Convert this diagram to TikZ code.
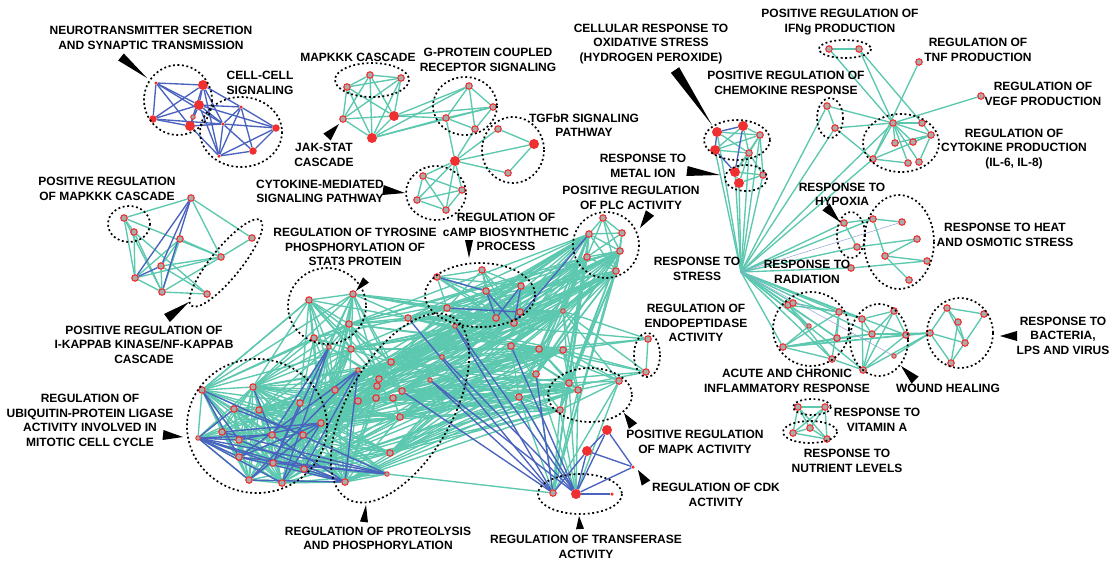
\documentclass[tikz,border=0pt]{standalone}
\usepackage{fontspec}
\setmainfont{Liberation Sans}
\usetikzlibrary{calc}
\definecolor{edgeteal}{HTML}{5BC8AF}
\definecolor{edgeblue}{HTML}{4A63BF}
\definecolor{noderim}{HTML}{EE3030}
\definecolor{nodefill}{HTML}{ABABAB}
\pgfdeclarelayer{tealedges}
\pgfdeclarelayer{blueedges}
\pgfsetlayers{tealedges,blueedges,main}
% black wedge pointing from a label to its group: tip, base centre, half width
\newcommand\calloutwedge[3]{%
  \fill[black] ($(#2)!#3!90:(#1)$) -- (#1) -- ($(#2)!#3!-90:(#1)$) -- cycle;}
% every pair of the listed nodes, joined in the given style
\newcommand\cliqueedges[2]{%
  \foreach \a [count=\i] in {#1}{\foreach \b [count=\j] in {#1}{\ifnum\i<\j \draw[#2] (\a)--(\b);\fi}}}
\tikzset{
  te/.style={draw=edgeteal, line width=1.35pt},
  be/.style={draw=edgeblue, line width=1.35pt},
  bthin/.style={draw=edgeblue!60, line width=0.5pt},
  grp/.style={draw=black, line width=1.7pt, dash pattern=on 1.9pt off 2.6pt},
  gn/.style={circle, draw=noderim, fill=nodefill, line width=1.1pt, minimum size=6.5pt, inner sep=0pt},
  gns/.style={gn, minimum size=4.5pt, line width=0.9pt},
  rn/.style={circle, fill=noderim, minimum size=10pt, inner sep=0pt},
  rnm/.style={rn, minimum size=7.5pt},
  sr/.style={rn, minimum size=3.5pt},
  lbl/.style={font=\bfseries\fontsize{12}{14.5}\selectfont, align=center, inner sep=0pt},
}
\begin{document}
\begin{tikzpicture}[x=1pt,y=-1pt]
\useasboundingbox (0,0) rectangle (1111,563);

% ---------- nodes ----------
\foreach \n/\x/\y in {N1/156/83,C1/241/107,C2/223/124,C5/219/156,D1/633/467,X3/612/494}
  \node[sr] (\n) at (\x,\y) {};
\foreach \n/\x/\y in {N2/203/85,N3/199/105,N5/190/126,J2/394/116,J3/372/138,H/455/161,T2/534/144,
  R1/607/430,R2/587/451,X2/576/494,O1/717/132,O2/743/126,O4/715/150,MI1/735/172,MI3/739/183}
  \node[rn] (\n) at (\x,\y) {};
\foreach \n/\x/\y in {N6/153/119,C3/276/128,C4/253/151}
  \node[rnm] (\n) at (\x,\y) {};
\foreach \n/\x/\y in {N4/193/117,u7/198/438,q1/329/347,q3/358/370,q6/455/326,q7/442/357,q9/430/380,
  q18/387/474,q22/563/311,AC4/809/326,WH5/894/356}
  \node[gns] (\n) at (\x,\y) {};
\foreach \n/\x/\y in {M1/370/75,M2/347/87,M3/401/78,J1/343/119,
  G1/469/86,G2/493/107,G3/446/118,G4/475/129,T1/498/129,T3/508/173,
  K1/423/176,K2/462/190,K3/417/200,K4/446/210,
  P1/191/198,P2/124/218,P3/134/232,P4/180/239,P5/252/238,P6/221/257,P7/161/266,P8/135/278,P9/162/292,P10/207/294,
  Y1/309/300,Y2/353/294,Y3/349/324,Y4/314/338,
  A1/437/277,A2/482/270,A3/486/291,A4/521/286,A5/447/308,A6/496/318,A7/520/312,A8/514/323,
  L1/603/218,L2/589/234,L3/622/233,L4/620/251,L5/587/257,L6/616/271,
  u1/202/390,u2/253/387,u3/234/409,u4/259/410,u5/300/403,u6/222/432,u8/239/440,u9/272/435,
  u10/303/435,u11/321/423,u12/239/457,u13/273/463,u14/304/469,u15/249/480,u16/282/483,u17/345/482,
  q2/351/349,q4/335/390,q5/408/318,q8/391/362,q10/379/379,q11/377/386,q12/402/391,q13/358/401,
  q14/376/398,q15/393/398,q16/400/417,q17/390/453,q19/511/346,q20/539/349,q21/563/350,q23/536/374,q24/519/397,
  E1/648/339,E2/646/372,MK1/569/383,MK2/578/390,MK3/619/381,MK4/560/410,X1/553/493,
  O3/760/135,O5/749/153,MI2/763/175,CH1/827/106,CH2/835/128,IF1/829/49,IF2/859/49,TNF/919/62,VEGF/981/96,
  CY1/893/123,CY2/922/123,CY3/931/135,CY4/895/143,CY5/913/142,CY6/873/159,CY7/908/163,CY8/919/162,
  HY1/844/223,HY2/857/247,HT1/873/219,HT2/902/222,HT3/917/239,HT4/885/256,HT5/927/261,HT6/909/280,RA/851/268,
  AC1/788/305,AC2/793/303,AC3/839/312,AC5/837/338,AC6/783/347,AC7/832/359,
  WH1/862/319,WH2/894/311,WH3/872/334,WH4/906/335,WH6/863/370,
  BA1/947/308,BA2/984/314,BA3/958/322,BA4/930/333,BA5/965/343,BA6/951/363,
  V1/798/407,V2/825/407,V3/810/428,V4/793/433,V5/827/439}
  \node[gn] (\n) at (\x,\y) {};
\coordinate (S) at (741,272);

% ---------- teal edges ----------
\begin{pgfonlayer}{tealedges}
\fill[white] (0,0) rectangle (1111,563);
\foreach \a/\b in {N3/N4,N4/N5}
  \draw[te] (\a)--(\b);
\cliqueedges{M1,M2,M3,J1,J2,J3}{te}
\foreach \a/\b in {J2/G1,J2/G2,J2/G3,J3/G1,J3/G2,J3/G3,G1/G2,G1/G3,G1/G4,G2/G3,G2/G4,G3/G4,
  G4/H,G3/H,H/T1,H/T2,H/T3,T1/T2,T2/T3}
  \draw[te] (\a)--(\b);
\cliqueedges{H,K1,K2,K3,K4}{te}
\foreach \a/\b in {P1/P2,P1/P6,P1/P5,P2/P3,P2/P6,P2/P8,P2/P9,P3/P9,P3/P10,P3/P8,P4/P6,P4/P8,P4/P9,P4/P7,
  P5/P6,P6/P7,P6/P8,P6/P9,P7/P9,P7/P10,P8/P9,P9/P10}
  \draw[te] (\a)--(\b);
\foreach \a/\b in {Y1/Y2,Y1/Y3,Y2/Y3,Y1/Y4,Y3/Y4}
  \draw[te] (\a)--(\b);
\cliqueedges{A1,A2,A3,A4,A5,A6,A7,A8}{te}
\cliqueedges{L1,L2,L3,L4,L5,L6}{te}
% dense cluster on the lower left
\cliqueedges{u1,u2,u3,u4,u5,u6,u7,u8,u9,u10,u11,u12,u13,u14,u15,u16,u17}{te}
\foreach \a in {u2,u4,u5,u9,u10,u11,u13,u14,u16,u17}
  \foreach \b in {q1,q2,q3,q4,q8,q10,q13,q14,q16,q17,q18}
    \draw[te] (\a)--(\b);
\foreach \a in {Y1,Y2,Y3,Y4}
  \foreach \b in {q1,q2,q4,q5,q8,q10,q12,u1,u2,u5,u11}
    \draw[te] (\a)--(\b);
\foreach \a in {L2,L4,L5,L6}
  \foreach \b in {q4,q5,q8,q10,q12,q13,q16,q17,u5,u11,Y3,q22,q19,q20,q23,q24,MK1,MK4,X1,u9}
    \draw[te] (\a)--(\b);
\foreach \a in {q22,q21,q20}
  \foreach \b in {q2,q5,q8,q10,q12,q13,q16,q17,u5,u10,u11,u14,E1,E2,MK1,MK2,MK3,Y3,q19}
    \draw[te] (\a)--(\b);
\foreach \a in {MK1,MK2,MK4,q23,q24}
  \foreach \b in {q8,q12,q13,q16,q17,q14,u11,u14,u17,X1,X2,q19}
    \draw[te] (\a)--(\b);
\foreach \a in {A5,A6,A7,A8}
  \foreach \b in {q5,q8,q2,Y2,q10,q22}
    \draw[te] (\a)--(\b);
\foreach \a/\b in {q18/X1,MK3/X1,MK3/X2,E1/E2,q5/q6,q6/q7,q5/E1,q12/E2,q24/E2,q11/q15,q11/q13,q9/q12,q7/q8,
  MK1/MK3,MK2/MK3,MK4/MK3,MK1/MK2,MK1/MK4,u1/Y1,u1/q2,q3/q11,q15/q16}
  \draw[te] (\a)--(\b);
% right-hand groups
\foreach \a/\b in {O1/O3,O1/O5,O2/O3,O2/O5,O4/O3,O4/O5,O3/O5,O2/O4,MI1/MI2,MI1/MI3,MI2/MI3,O3/MI1,O5/MI1,
  O5/MI2,O3/MI2,O5/MI3}
  \draw[te] (\a)--(\b);
\foreach \b in {O1,O3,O4,O5,MI1,MI2,MI3,CH1,CH2,CY6,CY1,HY1,HY2,RA,HT1,AC1,AC2,AC3,AC4,AC5,AC6,AC7,
  WH1,WH3,WH4,WH6}
  \draw[te] (S)--(\b);
\foreach \a/\b in {CH1/CH2,CH1/CY1,CH2/CY1,CH2/CY6,IF1/IF2,IF1/CY1,IF2/CY1,IF2/CY2,TNF/CY6,VEGF/CY1,
  CY1/CY2,CY1/CY3,CY1/CY4,CY1/CY5,CY1/CY7,CY1/CY8,CY1/CY6,CY6/CY7,CY6/CY3,CY5/CY3,CY2/CY3,CY4/CY3,CY8/CY3}
  \draw[te] (\a)--(\b);
\foreach \a/\b in {HY1/HY2,HY1/HT1,HT1/HT2,HT1/HT4,HT4/HT3,HT4/HT5,HT4/HT6,HY2/HT3,RA/HT5}
  \draw[te] (\a)--(\b);
\foreach \a/\b in {AC1/AC3,AC1/AC5,AC1/AC7,AC2/AC3,AC3/AC5,AC3/AC7,AC6/AC3,AC6/AC5,AC6/AC7,AC4/AC1,AC4/AC6,
  AC6/WH3,AC6/WH4,AC6/BA4,AC3/WH1,AC5/WH3,AC7/WH6,
  WH1/WH2,WH1/WH3,WH2/WH3,WH2/WH4,WH3/WH4,WH3/WH6,WH2/WH6,WH4/WH6,WH1/WH6,WH4/BA4,WH3/BA4,WH5/BA4,WH6/BA4,
  BA1/BA2,BA1/BA4,BA1/BA3,BA1/BA5,BA3/BA5,BA4/BA6,BA6/BA2,BA4/BA5,BA3/BA6}
  \draw[te] (\a)--(\b);
\cliqueedges{V1,V2,V3,V4,V5}{te}
\end{pgfonlayer}

% ---------- blue edges ----------
\begin{pgfonlayer}{blueedges}
\cliqueedges{N1,N2,N3,N5,N6}{be}
\cliqueedges{C1,C2,C3,C4,C5}{be}
\foreach \a/\b in {N2/C1,N2/C2,N3/C1,N3/C2,N3/C3,N5/C2,N6/C2,N5/C5,N3/C5,N1/C2,N2/C5}
  \draw[be] (\a)--(\b);
\foreach \a/\b in {P1/P7,P1/P8,P1/P9,P7/P8}
  \draw[be] (\a)--(\b);
\foreach \a/\b in {A1/A3,A3/A6,A5/A7,A3/A8,A4/A8,A4/A6,A8/L2}
  \draw[be] (\a)--(\b);
\foreach \a/\b in {u7/u3,u7/u8,u7/u9,u7/u12,u7/u13,u7/u14,u7/u15,u7/u16,u1/u8,u1/u12,u2/u9,u3/u10,u6/u11,
  u8/u11,u8/u17,u12/u11,u12/u17,u13/u5,u15/u11,u16/u11,u14/u17,u15/u17,u9/u17,q1/u9,q1/u13,q1/u16,
  q3/u12,q3/u14,q3/u15,q3/u17,u7/q18,u1/q18,u12/q18,u6/q18,u13/q18}
  \draw[be] (\a)--(\b);
\foreach \a/\b in {q5/X1,q6/X1,q6/X2,q9/X1,q9/X2,q7/X2,q12/X1,q19/X2,q24/X2,q23/X1,
  R1/R2,R1/D1,R2/D1,R1/X2,R2/X2,R2/X1,X2/D1,X2/X3}
  \draw[be] (\a)--(\b);
\foreach \a/\b in {O1/O2,O1/O4,O4/MI1,O2/MI1}
  \draw[be] (\a)--(\b);
\foreach \b in {HT2,WH5}
  \draw[bthin] (S)--(\b);
\end{pgfonlayer}

% ---------- groups ----------
\draw[grp] (178,100) ellipse [x radius=34, y radius=35];
\draw[grp] (241,132) ellipse [x radius=41, y radius=35];
\draw[grp] (372,80) ellipse [x radius=37, y radius=17];
\draw[grp] (465,106) ellipse [x radius=32, y radius=29];
\draw[grp] (513,150) ellipse [x radius=31, y radius=33];
\draw[grp] (436,193) ellipse [x radius=30, y radius=27];
\draw[grp] (129,224) ellipse [x radius=21, y radius=18];
\draw[grp, rotate around={51:(226,263)}] (226,263) ellipse [x radius=55, y radius=15];
\draw[grp] (327,306) ellipse [x radius=39, y radius=38];
\draw[grp] (480,295) ellipse [x radius=55, y radius=32];
\draw[grp] (606,245) ellipse [x radius=33, y radius=33];
\draw[grp] (737,140) ellipse [x radius=33, y radius=20];
\draw[grp] (746,178) ellipse [x radius=21, y radius=13];
\draw[grp] (845,49) ellipse [x radius=26, y radius=9];
\draw[grp] (830,118) ellipse [x radius=13, y radius=20];
\draw[grp] (901,143) ellipse [x radius=38, y radius=29];
\draw[grp] (851,235) ellipse [x radius=14, y radius=23];
\draw[grp] (899,242) ellipse [x radius=35, y radius=47];
\draw[grp] (811,329) ellipse [x radius=38, y radius=37];
\draw[grp] (879,340) ellipse [x radius=29, y radius=36];
\draw[grp] (960,333) ellipse [x radius=33, y radius=35];
\draw[grp] (812,407) ellipse [x radius=19, y radius=8];
\draw[grp] (810,432) ellipse [x radius=27, y radius=11];
\draw[grp] (647,355) ellipse [x radius=13, y radius=22];
\draw[grp] (590,395) ellipse [x radius=42, y radius=27];
\draw[grp] (580,494) ellipse [x radius=42, y radius=20];
\draw[grp] (257,426) ellipse [x radius=70, y radius=67];
\draw[grp, rotate around={60:(400,408)}] (400,408) ellipse [x radius=105, y radius=52];

% ---------- labels ----------
\node[lbl] (lneuro) at (151,38) {NEUROTRANSMITTER SECRETION\\AND SYNAPTIC TRANSMISSION};
\node[lbl] (lcell) at (260,83) {CELL-CELL\\SIGNALING};
\node[lbl] (lmapkkk) at (358,57) {MAPKKK CASCADE};
\node[lbl] (lgpcr) at (488,60) {G-PROTEIN COUPLED\\RECEPTOR SIGNALING};
\node[lbl] (ljak) at (324,155) {JAK-STAT\\CASCADE};
\node[lbl] (ltgf) at (584,125) {TGFbR SIGNALING\\PATHWAY};
\node[lbl] (lcytmed) at (320,191.5) {CYTOKINE-MEDIATED\\SIGNALING PATHWAY};
\node[lbl] (lposmapkkk) at (107,189) {POSITIVE REGULATION\\OF MAPKKK CASCADE};
\node[lbl] (likb) at (144,344.5) {POSITIVE REGULATION OF\\I-KAPPAB KINASE/NF-KAPPAB\\CASCADE};
\node[lbl] (ltyr) at (355,247) {REGULATION OF TYROSINE\\PHOSPHORYLATION OF\\STAT3 PROTEIN};
\node[lbl] (lcamp) at (506,232) {REGULATION OF\\cAMP BIOSYNTHETIC\\PROCESS};
\node[lbl] (lplc) at (631,198) {POSITIVE REGULATION\\OF PLC ACTIVITY};
\node[lbl] (loxi) at (651,44) {CELLULAR RESPONSE TO\\OXIDATIVE STRESS\\(HYDROGEN PEROXIDE)};
\node[lbl] (lmetal) at (643,166) {RESPONSE TO\\METAL ION};
\node[lbl] (lifn) at (840,22) {POSITIVE REGULATION OF\\IFNg PRODUCTION};
\node[lbl] (ltnf) at (978,50) {REGULATION OF\\TNF PRODUCTION};
\node[lbl] (lvegf) at (1043,94) {REGULATION OF\\VEGF PRODUCTION};
\node[lbl] (lchemo) at (786,83) {POSITIVE REGULATION OF\\CHEMOKINE RESPONSE};
\node[lbl] (lcytprod) at (1014,149) {REGULATION OF\\CYTOKINE PRODUCTION\\(IL-6, IL-8)};
\node[lbl] (lhyp) at (842,194.5) {RESPONSE TO\\HYPOXIA};
\node[lbl] (lheat) at (1005,235) {RESPONSE TO HEAT\\AND OSMOTIC STRESS};
\node[lbl] (lstress) at (697,269) {RESPONSE TO\\STRESS};
\node[lbl] (lrad) at (807,272) {RESPONSE TO\\RADIATION};
\node[lbl] (lendo) at (696,323) {REGULATION OF\\ENDOPEPTIDASE\\ACTIVITY};
\node[lbl] (lbact) at (1063,335.5) {RESPONSE TO\\BACTERIA,\\LPS AND VIRUS};
\node[lbl] (lacute) at (787,381) {ACUTE AND CHRONIC\\INFLAMMATORY RESPONSE};
\node[lbl] (lwound) at (948,388) {WOUND HEALING};
\node[lbl] (lvita) at (877,420) {RESPONSE TO\\VITAMIN A};
\node[lbl] (lnutr) at (847,461) {RESPONSE TO\\NUTRIENT LEVELS};
\node[lbl] (lubiq) at (90,420.5) {REGULATION OF\\UBIQUITIN-PROTEIN LIGASE\\ACTIVITY INVOLVED IN\\MITOTIC CELL CYCLE};
\node[lbl] (lmapk) at (695,442) {POSITIVE REGULATION\\OF MAPK ACTIVITY};
\node[lbl] (lcdk) at (716,495) {REGULATION OF CDK\\ACTIVITY};
\node[lbl] (lprot) at (378,538.5) {REGULATION OF PROTEOLYSIS\\AND PHOSPHORYLATION};
\node[lbl] (ltrans) at (586,547) {REGULATION OF TRANSFERASE\\ACTIVITY};

% ---------- callout wedges ----------
\calloutwedge{147,78}{121,57}{4.5pt}
\calloutwedge{339,124}{327,137}{5pt}
\calloutwedge{405,193}{383,190}{5pt}
\calloutwedge{189,302}{167,318}{5pt}
\calloutwedge{356,291}{366,280}{4pt}
\calloutwedge{469,258}{469,240}{4pt}
\calloutwedge{640,228}{650,213}{5pt}
\calloutwedge{712,125}{675,70}{5pt}
\calloutwedge{720,175}{687,171}{5pt}
\calloutwedge{840,222}{826,207}{5pt}
\calloutwedge{1000,336}{1017,336}{5pt}
\calloutwedge{901,366}{915,380}{5pt}
\calloutwedge{183,437}{163,435}{5pt}
\calloutwedge{624,413}{633,426}{5pt}
\calloutwedge{638,470}{646,483}{5pt}
\calloutwedge{366,505}{364,522}{4pt}
\calloutwedge{579,516}{580,529}{4pt}
\end{tikzpicture}
\end{document}
